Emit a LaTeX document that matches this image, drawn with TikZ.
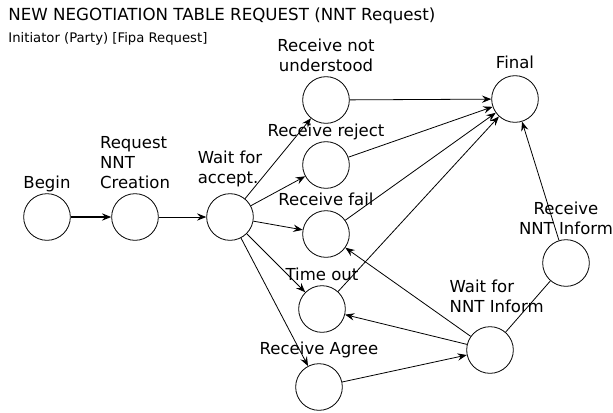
\documentclass[tikz,border=0pt]{standalone}
\usepackage{fontspec}
\setmainfont{DejaVu Sans}
\usetikzlibrary{arrows.meta}
\tikzset{
  state/.style={draw,circle,minimum size=35pt,inner sep=0pt},
  lbl/.style={inner sep=0pt,text depth=3pt,font=\fontsize{12.4}{15}\selectfont},
  >={Stealth[length=7pt,width=5.5pt,inset=2.5pt]}
}
\begin{document}
\begin{tikzpicture}[x=0.75pt,y=-0.75pt,line width=0.6pt]
\useasboundingbox (0,0) rectangle (613,412);
\node[anchor=base west,inner sep=0pt,font=\fontsize{12.5}{14}\selectfont] (title) at (8,20) {NEW NEGOTIATION TABLE REQUEST (NNT Request)};
\node[anchor=base west,inner sep=0pt,font=\fontsize{9.9}{12}\selectfont] (sub) at (8,42) {Initiator (Party) [Fipa Request]};
% states
\node[state,label={[lbl]above:Begin}] (begin) at (47,217) {};
\node[state,label={[lbl,align=left]above:Request\\NNT\\Creation}] (request) at (135,217) {};
\node[state,label={[lbl,align=left,yshift=4pt]above:Wait for\\accept.}] (waitacc) at (230,217) {};
\node[state,label={[lbl,align=center]above:Receive not\\understood}] (notund) at (326,100) {};
\node[state,label={[lbl]above:Receive reject}] (reject) at (326,165) {};
\node[state,label={[lbl]above:Receive fail}] (fail) at (326,234) {};
\node[state,label={[lbl]above:Time out}] (timeout) at (322,309) {};
\node[state,label={[lbl,yshift=3pt]above:Receive Agree}] (agree) at (319,387) {};
\node[state,label={[lbl,align=left,xshift=5pt,yshift=7pt]above:Wait for\\NNT Inform}] (waitnnt) at (490,350) {};
\node[state,label={[lbl,align=center]above:Receive\\NNT Inform}] (recvnnt) at (566,263) {};
\node[state,label={[lbl,yshift=2pt]above:Final}] (final) at (515,99) {};
% transitions
\draw[->,line width=1.4pt] (begin) -- (request);
\draw[->] (request) -- (waitacc);
\draw[->] (waitacc) -- (notund);
\draw[->] (waitacc) -- (reject);
\draw[->] (waitacc) -- (fail);
\draw[->] (waitacc) -- (timeout);
\draw[->] (waitacc) -- (agree);
\draw[->] (notund) -- (final);
\draw[->] (reject) -- (final);
\draw[->] (fail) -- (final);
\draw[->] (timeout) -- (final);
\draw[->] (agree) -- (waitnnt);
\draw[->] (waitnnt) -- (timeout);
\draw[->] (waitnnt) -- (fail);
\draw (waitnnt) -- (recvnnt);
\draw[->] (recvnnt) -- (final);
\end{tikzpicture}
\end{document}
